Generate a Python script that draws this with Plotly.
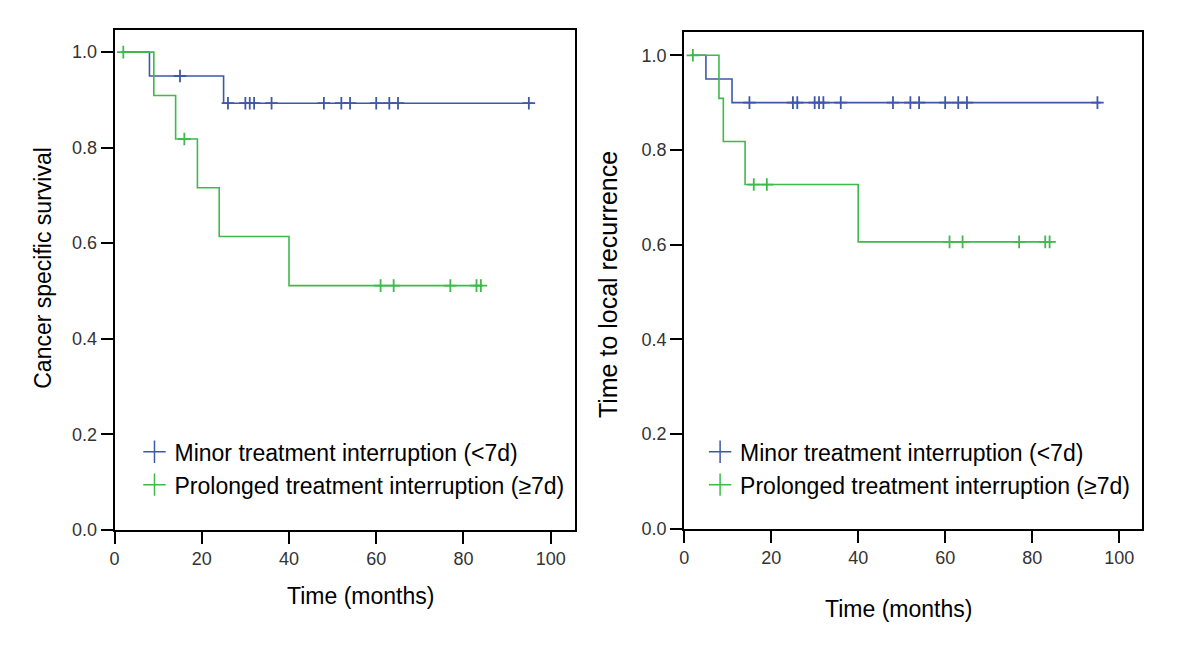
import plotly.graph_objects as go

# ---------------- data ----------------
# Left panel: cancer specific survival
css_minor_t = [1.5, 8, 25, 95.8]
css_minor_s = [1.0, 0.95, 0.893, 0.893]
css_minor_cens = [15, 26, 30, 31, 32, 36, 48, 52, 54, 60, 63, 65, 95]

css_prol_t = [1.5, 9, 14, 19, 24, 40, 84.3]
css_prol_s = [1.0, 0.909, 0.818, 0.716, 0.614, 0.511, 0.511]
css_prol_cens = [2, 16, 61, 64, 77, 83, 84]

# Right panel: time to local recurrence
lr_minor_t = [1.5, 5, 11, 95.8]
lr_minor_s = [1.0, 0.95, 0.90, 0.90]
lr_minor_cens = [15, 25, 26, 30, 31, 32, 36, 48, 52, 54, 60, 63, 65, 95]

lr_prol_t = [1.5, 8, 9, 14, 40, 84.3]
lr_prol_s = [1.0, 0.909, 0.818, 0.727, 0.606, 0.606]
lr_prol_cens = [2, 16, 19, 61, 64, 77, 83, 84]

series_names = ["Minor treatment interruption (<7d)", "Prolonged treatment interruption (\u22657d)"]
x_ticks = [0, 20, 40, 60, 80, 100]
y_ticks = [0.0, 0.2, 0.4, 0.6, 0.8, 1.0]

BLUE = "#3d58a9"
GREEN = "#3dba4b"
FONT = "Liberation Sans, Arial, sans-serif"

# page body has an 8px default margin: compensate
OFF = 8
W, H = 1200 - OFF, 649 - OFF


def px(x):
    return (x - OFF) / W


def py(y):
    return 1 - (y - OFF) / H


def step_value(ts, ss, x):
    v = ss[0]
    for t, s in zip(ts, ss):
        if x >= t:
            v = s
    return v


fig = go.Figure()


def add_curve(ts, ss, cens, color, xa, ya):
    fig.add_trace(go.Scatter(x=ts, y=ss, mode="lines", line=dict(color=color, width=1.6, shape="hv"),
                             xaxis=xa, yaxis=ya, showlegend=False, hoverinfo="skip"))
    fig.add_trace(go.Scatter(x=cens, y=[step_value(ts, ss, c) for c in cens], mode="markers",
                             marker=dict(symbol="cross-thin", size=9, line=dict(color=color, width=1.8)),
                             xaxis=xa, yaxis=ya, showlegend=False, hoverinfo="skip"))


add_curve(css_minor_t, css_minor_s, css_minor_cens, BLUE, "x", "y")
add_curve(css_prol_t, css_prol_s, css_prol_cens, GREEN, "x", "y")
add_curve(lr_minor_t, lr_minor_s, lr_minor_cens, BLUE, "x2", "y2")
add_curve(lr_prol_t, lr_prol_s, lr_prol_cens, GREEN, "x2", "y2")

# legend-only traces
for lg, xa, ya in [("legend", "x", "y"), ("legend2", "x2", "y2")]:
    for name, color in zip(series_names, [BLUE, GREEN]):
        fig.add_trace(go.Scatter(x=[None], y=[None], mode="markers", name=name,
                                 marker=dict(symbol="cross-thin", size=16, line=dict(color=color, width=1.5)),
                                 xaxis=xa, yaxis=ya, legend=lg))

axis_common = dict(showline=True, mirror=True, linecolor="black", linewidth=2,
                   ticks="outside", ticklen=12, tickwidth=2, tickcolor="black",
                   showgrid=False, zeroline=False,
                   tickfont=dict(family=FONT, size=18, color="#333333"), fixedrange=True)

legend_common = dict(xanchor="left", yanchor="top", bgcolor="rgba(0,0,0,0)",
                     font=dict(family=FONT, size=23, color="black"),
                     itemclick=False, itemdoubleclick=False, tracegroupgap=0)

fig.update_layout(
    width=W, height=H,
    margin=dict(l=0, r=0, t=0, b=0),
    paper_bgcolor="white", plot_bgcolor="white",
    font=dict(family=FONT, color="black"),
    xaxis=dict(domain=[px(110), px(572)], range=[0, 105.5], tickvals=x_ticks, anchor="y", **axis_common),
    yaxis=dict(domain=[py(538), py(30)], range=[0, 1.047], tickvals=y_ticks, tickformat=".1f",
               anchor="x", **axis_common),
    xaxis2=dict(domain=[px(682), px(1142)], range=[0, 105.3], tickvals=x_ticks, anchor="y2", **axis_common),
    yaxis2=dict(domain=[py(537), py(32)], range=[0, 1.05], tickvals=y_ticks, tickformat=".1f",
                anchor="x2", **axis_common),
    legend=dict(x=px(130), y=py(437), **legend_common),
    legend2=dict(x=px(698), y=py(437), **legend_common),
    annotations=[
        dict(text="Cancer specific survival", x=px(38), y=py(272), xref="paper", yref="paper",
             textangle=-90, showarrow=False, xanchor="center", yanchor="middle",
             font=dict(family=FONT, size=23, color="black")),
        dict(text="Time to local recurrence", x=px(605), y=py(289), xref="paper", yref="paper",
             textangle=-90, showarrow=False, xanchor="center", yanchor="middle",
             font=dict(family=FONT, size=25, color="black")),
        dict(text="Time (months)", x=px(357), y=py(605), xref="paper", yref="paper",
             showarrow=False, xanchor="center", yanchor="middle",
             font=dict(family=FONT, size=23, color="black")),
        dict(text="Time (months)", x=px(897), y=py(619), xref="paper", yref="paper",
             showarrow=False, xanchor="center", yanchor="middle",
             font=dict(family=FONT, size=23, color="black")),
    ],
)

fig.write_html("out.html")
